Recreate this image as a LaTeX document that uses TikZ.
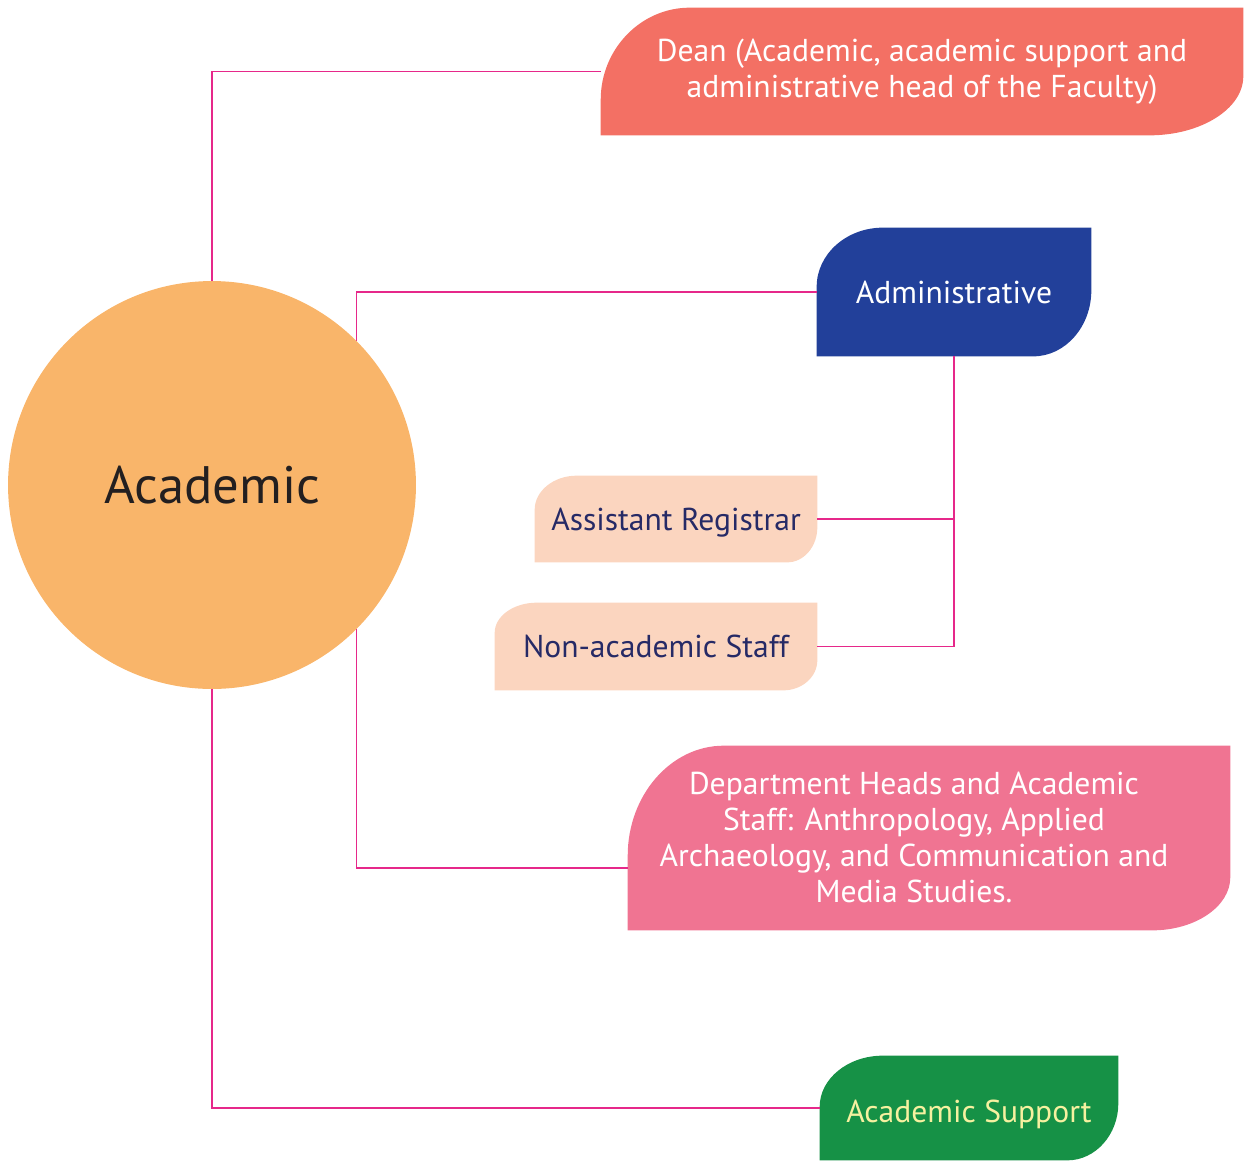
\documentclass[tikz,border=0pt]{standalone}
\usepackage{fontspec}
\setmainfont{PT Sans}
\usetikzlibrary{calc,backgrounds}
\definecolor{acadcol}{HTML}{F9B56A}
\definecolor{acadtext}{HTML}{231F20}
\definecolor{deancol}{HTML}{F37064}
\definecolor{admincol}{HTML}{22409A}
\definecolor{staffcol}{HTML}{FBD5BF}
\definecolor{stafftext}{HTML}{262A66}
\definecolor{deptcol}{HTML}{F07492}
\definecolor{suppcol}{HTML}{169146}
\definecolor{supptext}{HTML}{F6F1A0}
\definecolor{linkcol}{HTML}{E6288A}
% leaf shaped fill behind a node: node, colour, top-left radii, bottom-right radii
\newcommand\leafback[6]{%
  \fill[#2] (#1.south west) -- ($(#1.north west)+(0,#4)$)
    .. controls ($(#1.north west)+(0,0.45*#4)$) and ($(#1.north west)+(0.45*#3,0)$) .. ($(#1.north west)+(#3,0)$)
    -- (#1.north east) -- ($(#1.south east)+(0,-#6)$)
    .. controls ($(#1.south east)+(0,-0.45*#6)$) and ($(#1.south east)+(-0.45*#5,0)$) .. ($(#1.south east)+(-#5,0)$)
    -- cycle;}
% lower a text without changing its box
\newcommand\lowertext[2]{\raisebox{-#1}[\height][\depth]{#2}}
\begin{document}
\begin{tikzpicture}[x=0.02cm, y=-0.02cm,
    box/.style={inner sep=0pt, font=\fontsize{18}{20.5}\selectfont},
    link/.style={draw=linkcol, line width=1.1pt}]
  \useasboundingbox (0,0) rectangle (1250,1160);

  \node[circle, fill=acadcol, minimum size=8.16cm, inner sep=0pt, text=acadtext,
    font=\fontsize{30}{36}\selectfont] (acad) at (212,485) {Academic};

  \node[box, align=center, minimum width=12.84cm, minimum height=2.54cm, text=white] (dean) at (922,71.5)
    {Dean (Academic, academic support and\\administrative head of the Faculty)};
  \node[box, minimum width=5.48cm, minimum height=2.56cm, text=white] (admin) at (954,292) {Administrative};
  \node[box, minimum width=5.64cm, minimum height=1.72cm, text=stafftext] (asst) at (676,519) {\lowertext{2.2pt}{Assistant Registrar}};
  \node[box, minimum width=6.44cm, minimum height=1.74cm, text=stafftext] (nonac) at (656,646.5) {Non-academic Staff};
  \node[box, minimum width=12.04cm, minimum height=3.68cm, text=white] (dept) at (929,838)
    {\lowertext{2pt}{\begin{tabular}{@{}c@{}}Department Heads and Academic\\Staff: Anthropology, Applied\\
      Archaeology, and Communication and\\Media Studies.\end{tabular}}\hspace{0.6cm}\null};
  \node[box, minimum width=5.96cm, minimum height=2.08cm, text=supptext] (supp) at (969,1108) {\lowertext{3.4pt}{Academic Support}};

  \begin{pgfonlayer}{background}
    \leafback{dean}{deancol}{89}{92}{94}{59}
    \leafback{admin}{admincol}{66}{59}{58}{66}
    \leafback{asst}{staffcol}{42}{34}{30}{35}
    \leafback{nonac}{staffcol}{42}{30}{34}{30}
    \leafback{dept}{deptcol}{96}{110}{78}{53}
    \leafback{supp}{suppcol}{63}{51}{51}{57}

    \draw[link] (acad.north) |- (dean.west);
    \draw[link] (acad.45) |- (admin.west);
    \draw[link] (admin.south) |- (nonac.east);
    \draw[link] (asst.east) -- (asst.east -| admin.south);
    \draw[link] (acad.-45) |- ($(dept.south west)!0.34!(dept.north west)$);
    \draw[link] (acad.south) |- (supp.west);
  \end{pgfonlayer}
\end{tikzpicture}
\end{document}
